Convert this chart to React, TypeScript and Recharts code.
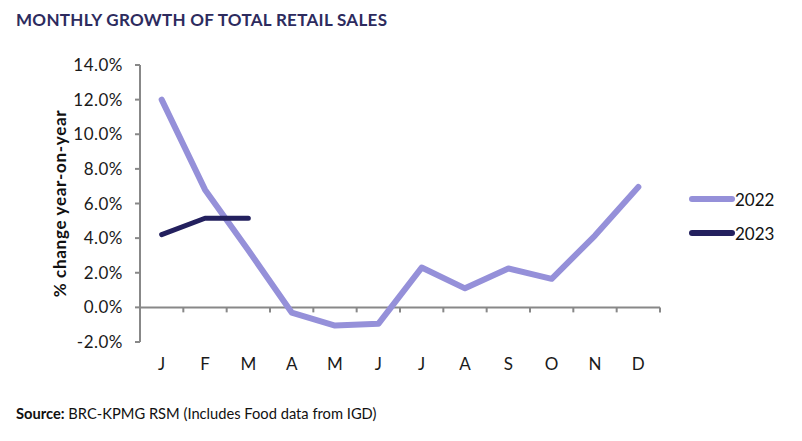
import { LineChart, Line, XAxis, YAxis, ReferenceLine } from 'recharts';

const months = ['J', 'F', 'M', 'A', 'M', 'J', 'J', 'A', 'S', 'O', 'N', 'D'];
const sales2022 = [12.0, 6.8, 3.3, -0.3, -1.05, -0.95, 2.3, 1.1, 2.25, 1.65, 4.15, 6.95];
const sales2023 = [4.2, 5.15, 5.15];
const yTicks = [-2, 0, 2, 4, 6, 8, 10, 12, 14];

const AXIS = '#888888';
const FONT = 'Lato, "Open Sans", sans-serif';

const series = [
  { key: 'y2022', name: '2022', color: '#9590D9', width: 6 },
  { key: 'y2023', name: '2023', color: '#23205E', width: 5 },
];

// x positions sit in the middle of each month slot, ticks go on the boundaries
const data = months.map((m, i) => ({
  pos: i + 0.5,
  month: m,
  y2022: sales2022[i],
  y2023: sales2023[i] ?? null,
}));
const boundaries = months.map((_, i) => i + 1);

export default function App() {
  return (
    <div style={{ position: 'relative', width: 802, height: 441, margin: -8, background: '#fff' }}>
      <div
        style={{
          position: 'absolute', left: 16, top: 10, fontFamily: FONT, fontWeight: 700,
          fontSize: 17, lineHeight: '20px', color: '#2D2B5E', letterSpacing: 0.3,
        }}
      >
        MONTHLY GROWTH OF TOTAL RETAIL SALES
      </div>
      <LineChart
        width={802}
        height={441}
        data={data}
        margin={{ top: 65, right: 142, bottom: 69, left: 0 }}
      >
        <XAxis
          dataKey="pos"
          type="number"
          domain={[0, 12]}
          ticks={data.map(d => d.pos)}
          tickFormatter={(v: number) => months[Math.round(v - 0.5)]}
          axisLine={false}
          tickLine={false}
          tickMargin={10}
          height={30}
          interval={0}
          tick={{ fill: '#1a1a1a', fontSize: 17, fontFamily: FONT }}
        />
        <YAxis
          domain={[-2, 14]}
          ticks={yTicks}
          interval={0}
          width={140}
          tickFormatter={(v: number) => v.toFixed(1) + '%'}
          axisLine={{ stroke: AXIS, strokeWidth: 2 }}
          tickLine={{ stroke: AXIS, strokeWidth: 2 }}
          tickSize={5}
          tickMargin={12}
          tick={{ fill: '#1a1a1a', fontSize: 17, fontFamily: FONT, letterSpacing: 0.5 }}
          label={{
            value: '% change year-on-year', angle: -90, position: 'center', dx: -10,
            style: {
              fontFamily: FONT, fontWeight: 700, fontSize: 17, letterSpacing: 0.7,
              fill: '#111', textAnchor: 'middle',
            },
          }}
        />
        <ReferenceLine y={0} stroke={AXIS} strokeWidth={2} />
        {boundaries.map(b => (
          <ReferenceLine
            key={b}
            segment={[{ x: b, y: 0 }, { x: b, y: 0 }]}
            shape={(p: any) => (
              <line x1={p.x1} y1={p.y1} x2={p.x1} y2={p.y1 + 5} stroke={AXIS} strokeWidth={2} />
            )}
          />
        ))}
        {series.map(s => (
          <Line
            key={s.key}
            dataKey={s.key}
            name={s.name}
            stroke={s.color}
            strokeWidth={s.width}
            strokeLinecap="round"
            strokeLinejoin="round"
            dot={false}
            activeDot={false}
            isAnimationActive={false}
          />
        ))}
      </LineChart>
      <div style={{ position: 'absolute', left: 689, top: 182, fontFamily: FONT, fontSize: 17, color: '#111' }}>
        {series.map(s => (
          <div key={s.name} style={{ display: 'flex', alignItems: 'center', height: 34 }}>
            <svg width={46} height={10}>
              <line x1={3} y1={5} x2={43} y2={5} stroke={s.color} strokeWidth={6} strokeLinecap="round" />
            </svg>
            <span>{s.name}</span>
          </div>
        ))}
      </div>
      <div
        style={{
          position: 'absolute', left: 16, top: 403, fontFamily: FONT, fontSize: 14.7,
          lineHeight: '20px', color: '#111',
        }}
      >
        <b>Source:</b> BRC-KPMG RSM (Includes Food data from IGD)
      </div>
    </div>
  );
}
